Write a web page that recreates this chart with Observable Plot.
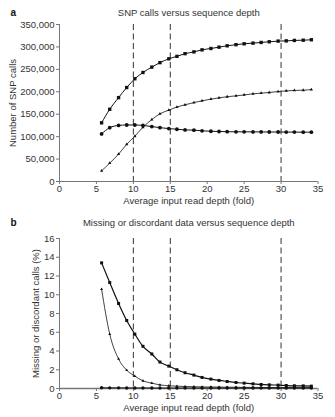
<!DOCTYPE html>
<html>
<head>
<meta charset="utf-8">
<script src="https://cdn.jsdelivr.net/npm/d3@7"></script>
<script src="https://cdn.jsdelivr.net/npm/@observablehq/plot@0.6"></script>
<style>
  html, body { margin: 0; padding: 0; background: #fff; }
  #chart { width: 335px; }
  svg { display: block; }
</style>
</head>
<body>
<div id="chart"></div>
<script>
// ---- data ----
const depth = [5.7, 6.8, 8.0, 9.1, 10.2, 11.3, 12.5, 13.6, 14.8, 15.9, 17.0, 18.2, 19.3,
               20.5, 21.6, 22.7, 23.9, 25.0, 26.2, 27.3, 28.4, 29.6, 30.7, 31.8, 33.0, 34.1];
// panel a: SNP calls
const snpTotal = [130800, 161000, 187000, 209500, 229000, 243000, 255000, 265000, 273500,
                  279000, 285000, 289000, 293500, 296500, 299500, 302500, 305000, 307000,
                  308500, 310000, 311500, 313000, 313500, 314500, 315000, 316000];
const snpHom   = [106000, 120000, 125000, 126000, 126000, 125000, 122500, 120000, 118000,
                  116500, 115000, 114500, 113000, 112000, 111500, 111000, 110800, 110700,
                  110600, 110500, 110400, 110300, 110200, 110100, 110000, 110000];
const snpHet   = [23800, 41000, 61000, 83000, 101000, 121000, 138000, 151000, 159000,
                  166000, 171000, 176000, 180000, 183500, 186500, 189000, 191000, 193000,
                  195500, 197000, 198500, 200500, 202000, 203000, 203500, 205000];
// panel b: missing or discordant calls (%)
const missHet  = [13.4, 11.3, 9.07, 7.25, 5.8, 4.5, 3.68, 2.82, 2.39, 2.0, 1.68, 1.43, 1.18,
                  1.0, 0.86, 0.75, 0.64, 0.57, 0.5, 0.43, 0.39, 0.36, 0.32, 0.29, 0.28, 0.25];
const missHom  = [10.6, 5.8, 3.15, 1.96, 1.32, 0.82, 0.57, 0.39, 0.29, 0.25, 0.21, 0.19, 0.17,
                  0.16, 0.15, 0.14, 0.13, 0.12, 0.12, 0.11, 0.11, 0.10, 0.10, 0.10, 0.09, 0.09];
const discord  = [0.08, 0.07, 0.07, 0.06, 0.06, 0.06, 0.05, 0.05, 0.05, 0.05, 0.05, 0.05, 0.05,
                  0.05, 0.05, 0.05, 0.05, 0.05, 0.05, 0.05, 0.05, 0.05, 0.05, 0.05, 0.05, 0.05];
const refDepths = [10, 15, 30];
const xTicks = [0, 5, 10, 15, 20, 25, 30, 35];
const yTicksA = [0, 50000, 100000, 150000, 200000, 250000, 300000, 350000];
const yTicksB = [0, 2, 4, 6, 8, 10, 12, 14, 16];

const rows = (ys) => depth.map((x, i) => ({x, y: ys[i]}));

const FONT = "'Liberation Sans', Arial, Helvetica, sans-serif";
const TXT = "#333";
const AX = "#777";

function panel({letter, title, ylabel, ylabelOffset, yDomain, yTicks, series, height, marginTop, baseW}) {
  const marks = [
    Plot.ruleX(refDepths, {stroke: "#333", strokeWidth: 1, strokeDasharray: "6,3.5"}),
    Plot.ruleY([0], {stroke: AX, strokeWidth: baseW}),
    Plot.ruleX([0], {stroke: AX, strokeWidth: 1}),
    Plot.axisX({ticks: xTicks, tickSize: 3, tickPadding: 1, stroke: AX, fill: TXT, label: null}),
    Plot.axisY({ticks: yTicks, tickSize: 3, tickPadding: 2, stroke: AX, fill: TXT, label: null}),
    Plot.text([title], {frameAnchor: "top", lineAnchor: "middle", dy: -(marginTop - 12), fill: TXT, fontSize: 9.5}),
    Plot.text([letter], {frameAnchor: "top-left", lineAnchor: "middle", dx: -49, dy: -(marginTop - 12),
                         textAnchor: "start", fill: "#111", fontWeight: "bold", fontSize: 10}),
    Plot.text([ylabel], {frameAnchor: "left", rotate: -90, textAnchor: "middle", lineAnchor: "middle",
                         dx: -ylabelOffset, fill: TXT, fontSize: 9.5}),
    Plot.text(["Average input read depth (fold)"], {frameAnchor: "bottom", lineAnchor: "middle", dy: 19,
                         fill: TXT, fontSize: 9.5})
  ];
  for (const s of series) {
    marks.push(Plot.line(rows(s.values), {x: "x", y: "y", stroke: "#111", strokeWidth: s.w, curve: "monotone-x"}));
    marks.push(Plot.dot(rows(s.values), {x: "x", y: "y", symbol: s.symbol, r: s.r, fill: "#111", stroke: "none"}));
  }
  return Plot.plot({
    width: 335,
    height,
    marginTop,
    marginBottom: 29,
    marginLeft: 59,
    marginRight: 17.5,
    style: {fontFamily: FONT, fontSize: "9.5px", background: "#fff", color: TXT},
    x: {domain: [0, 35]},
    y: {domain: yDomain},
    marks
  });
}

const chart = document.getElementById("chart");
chart.append(panel({
  letter: "a",
  title: "SNP calls versus sequence depth",
  ylabel: "Number of SNP calls",
  ylabelOffset: 47,
  yDomain: [0, 350000],
  yTicks: yTicksA,
  height: 210,
  marginTop: 24,
  baseW: 1,
  series: [
    {values: snpTotal, symbol: "square", r: 1.9, w: 1},
    {values: snpHom, symbol: "circle", r: 1.9, w: 1},
    {values: snpHet, symbol: "triangle", r: 1.2, w: 0.8}
  ]
}));
chart.append(panel({
  letter: "b",
  title: "Missing or discordant data versus sequence depth",
  ylabel: "Missing or discordant calls (%)",
  ylabelOffset: 24,
  yDomain: [0, 16],
  yTicks: yTicksB,
  height: 207,
  marginTop: 28,
  baseW: 1.6,
  series: [
    {values: missHet, symbol: "square", r: 1.7, w: 1.2},
    {values: missHom, symbol: "triangle", r: 1.1, w: 0.8},
    {values: discord, symbol: "circle", r: 1.7, w: 1}
  ]
}));
</script>
</body>
</html>
